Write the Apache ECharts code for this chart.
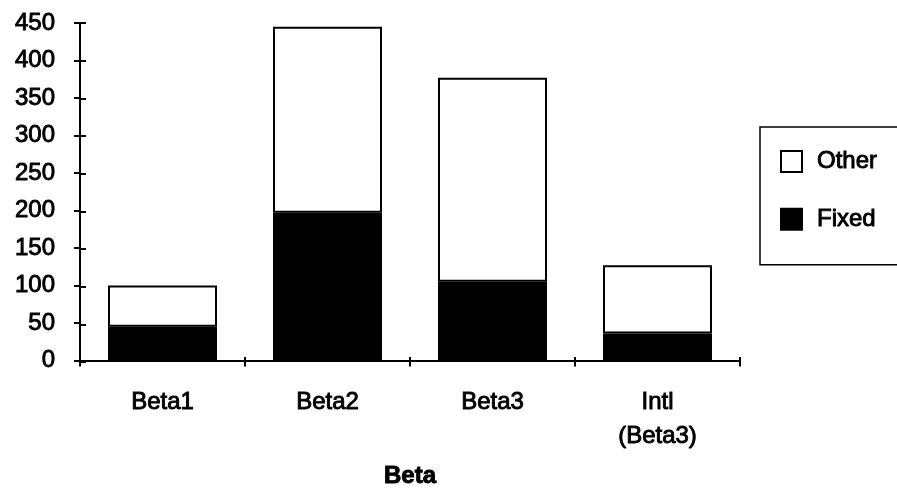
<!DOCTYPE html>
<html>
<head>
<meta charset="utf-8">
<script src="https://cdn.jsdelivr.net/npm/echarts@6/dist/echarts.min.js"></script>
<style>
html,body{margin:0;padding:0;background:#fff;}
#c{width:897px;height:494px;}
</style>
</head>
<body>
<div id="c"></div>
<script>
var categories = ['Beta1', 'Beta2', 'Beta3', 'Intl\n(Beta3)'];
var fixedValues = [45, 197, 105, 36];
var otherValues = [55, 248, 272, 91];
var yTicks = { min: 0, max: 450, interval: 50 };
var axisName = 'Beta';

var FONT = '"Liberation Sans", Arial, Helvetica, sans-serif';
var THICK = { textBorderColor: '#000', textBorderWidth: 0.9 };
var chart = echarts.init(document.getElementById('c'), null, { renderer: 'canvas' });

var gridBox = { left: 80, right: 157, top: 23, bottom: 132, containLabel: false };

chart.setOption({
  animation: false,
  backgroundColor: '#fff',
  grid: [Object.assign({}, gridBox), Object.assign({}, gridBox)],
  legend: {
    orient: 'vertical',
    left: 760,
    top: 127,
    data: ['Other', 'Fixed'],
    itemWidth: 21,
    itemHeight: 21,
    itemGap: 33,
    padding: [22, 60, 33, 20],
    borderColor: '#000',
    borderWidth: 1.5,
    borderRadius: 0,
    icon: 'rect',
    selectedMode: false,
    textStyle: Object.assign({ fontFamily: FONT, fontSize: 24, lineHeight: 24, color: '#000', padding: [0, 0, 0, 10] }, THICK)
  },
  xAxis: [{
    type: 'category',
    gridIndex: 0,
    data: categories,
    name: axisName,
    nameLocation: 'middle',
    nameGap: 104,
    nameTextStyle: Object.assign({ fontFamily: FONT, fontSize: 24, fontWeight: 'bold', color: '#000' }, THICK),
    axisLine: { lineStyle: { color: '#000', width: 2 } },
    axisTick: { show: true, length: 6, lineStyle: { color: '#000', width: 2 } },
    axisLabel: Object.assign({ fontFamily: FONT, fontSize: 24, lineHeight: 34, color: '#000', margin: 25, interval: 0 }, THICK),
    splitLine: { show: false }
  }, {
    type: 'category',
    gridIndex: 1,
    data: categories,
    axisLine: { show: false },
    axisTick: { show: true, inside: true, length: 5, lineStyle: { color: '#000', width: 2 } },
    axisLabel: { show: false },
    splitLine: { show: false }
  }],
  yAxis: [{
    type: 'value',
    gridIndex: 0,
    min: yTicks.min, max: yTicks.max, interval: yTicks.interval,
    axisLine: { show: true, lineStyle: { color: '#000', width: 2 } },
    axisTick: { show: true, length: 6, lineStyle: { color: '#000', width: 2 } },
    axisLabel: Object.assign({ fontFamily: FONT, fontSize: 24, color: '#000', margin: 25 }, THICK),
    splitLine: { show: false }
  }, {
    type: 'value',
    gridIndex: 1,
    min: yTicks.min, max: yTicks.max, interval: yTicks.interval,
    axisLine: { show: false },
    axisTick: { show: true, inside: true, length: 6, lineStyle: { color: '#000', width: 2 } },
    axisLabel: { show: false },
    splitLine: { show: false }
  }],
  series: [{
    name: 'Fixed',
    type: 'bar',
    stack: 'total',
    xAxisIndex: 0, yAxisIndex: 0,
    data: fixedValues,
    barWidth: 109,
    itemStyle: { color: '#000', borderColor: '#000', borderWidth: 2 }
  }, {
    name: 'Other',
    type: 'bar',
    stack: 'total',
    xAxisIndex: 0, yAxisIndex: 0,
    data: otherValues,
    barWidth: 109,
    itemStyle: { color: '#fff', borderColor: '#000', borderWidth: 2 }
  }]
});
</script>
</body>
</html>
